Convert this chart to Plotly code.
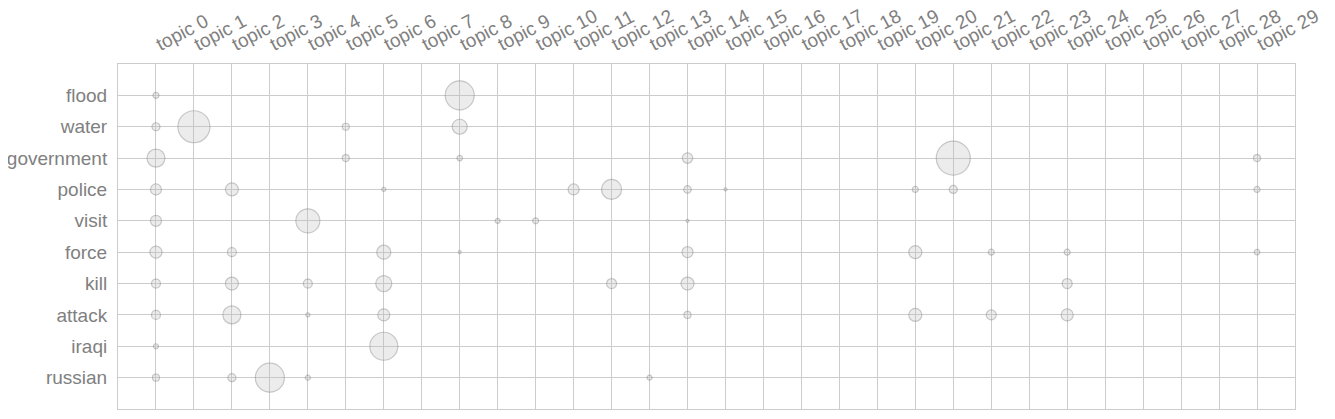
import plotly.graph_objects as go

topics = [f"topic {i}" for i in range(30)]
words = ["flood", "water", "government", "police", "visit",
         "force", "kill", "attack", "iraqi", "russian"]

# (topic index, word, weight) - weight is proportional to bubble area
pt_topic = [0, 8,
            0, 1, 5, 8,
            0, 5, 8, 14, 21, 29,
            0, 2, 6, 11, 12, 14, 15, 20, 21, 29,
            0, 4, 9, 10, 14,
            0, 2, 6, 8, 14, 20, 22, 24, 29,
            0, 2, 4, 6, 12, 14, 24,
            0, 2, 4, 6, 14, 20, 22, 24,
            0, 6,
            0, 2, 3, 4, 13]
pt_word = (["flood"] * 2 + ["water"] * 4 + ["government"] * 6 + ["police"] * 10 +
           ["visit"] * 5 + ["force"] * 9 + ["kill"] * 7 + ["attack"] * 8 +
           ["iraqi"] * 2 + ["russian"] * 5)
pt_weight = [0.036, 0.841,
             0.064, 1.024, 0.049, 0.225,
             0.324, 0.049, 0.030, 0.110, 1.156, 0.049,
             0.121, 0.169, 0.016, 0.121, 0.400, 0.056, 0.009, 0.036, 0.064, 0.036,
             0.121, 0.576, 0.025, 0.036, 0.005,
             0.144, 0.081, 0.196, 0.009, 0.121, 0.169, 0.036, 0.036, 0.030,
             0.081, 0.169, 0.081, 0.256, 0.100, 0.169, 0.100,
             0.081, 0.324, 0.016, 0.144, 0.049, 0.169, 0.100, 0.144,
             0.025, 0.784,
             0.049, 0.064, 0.841, 0.025, 0.025]

fig = go.Figure()
fig.add_trace(go.Scatter(
    x=[topics[t] for t in pt_topic],
    y=pt_word,
    mode="markers",
    marker=dict(
        size=pt_weight,
        sizemode="area",
        sizeref=0.002,
        sizemin=1.5,
        color="rgba(191,191,191,0.4)",
        line=dict(color="rgba(120,120,120,0.55)", width=1.2),
    ),
    hoverinfo="x+y",
    showlegend=False,
))

axis_common = dict(
    showgrid=True,
    gridcolor="#cccccc",
    gridwidth=1,
    showline=True,
    linecolor="#cccccc",
    linewidth=1,
    mirror=True,
    zeroline=False,
    ticks="",
    automargin=False,
    tickfont=dict(family="Liberation Sans, Arial, sans-serif", size=19, color="#808080"),
)

fig.update_xaxes(
    type="category",
    categoryorder="array",
    categoryarray=topics,
    range=[-1, 30],
    side="top",
    tickangle=-28,
    ticklabelstandoff=3,
    **axis_common,
)
fig.update_yaxes(
    type="category",
    categoryorder="array",
    categoryarray=words,
    range=[10, -1],
    ticklabelstandoff=6,
    **axis_common,
)

fig.update_layout(
    width=1335,
    height=419,
    margin=dict(l=110, r=48, t=56, b=18),
    paper_bgcolor="white",
    plot_bgcolor="white",
    font=dict(family="Liberation Sans, Arial, sans-serif", color="#808080"),
)

fig.write_html("out.html")
